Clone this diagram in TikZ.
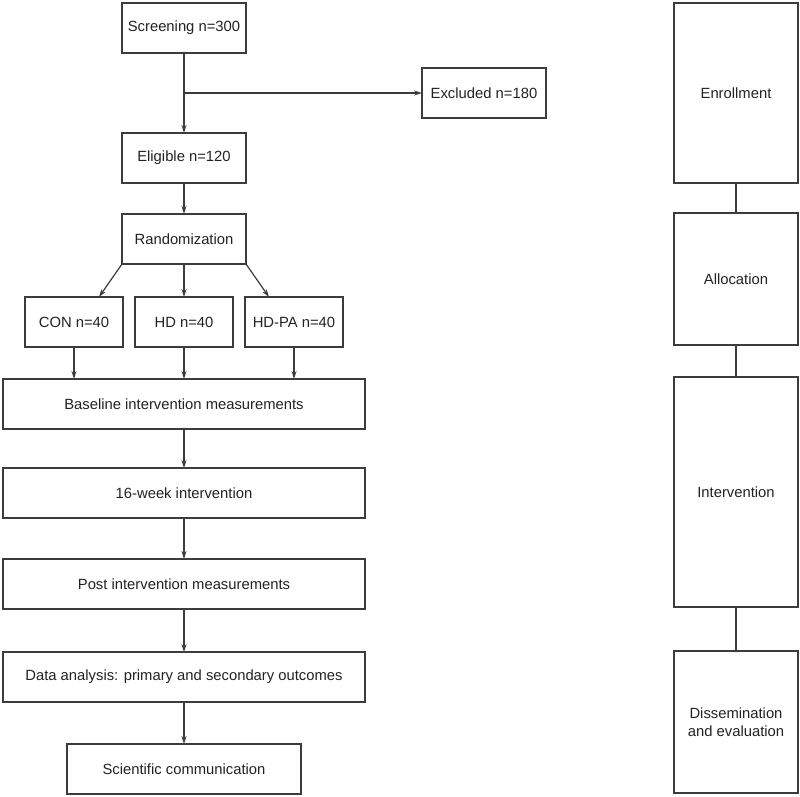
\documentclass[tikz,border=0pt]{standalone}
\usepackage{fontspec}
\setmainfont{Liberation Sans}
\usepackage{tikz}
\usetikzlibrary{arrows.meta,positioning}
\definecolor{linegray}{HTML}{3C3C3C}
\definecolor{textgray}{HTML}{222222}

\begin{document}
\begin{tikzpicture}[x=1pt, y=1pt, node distance=30pt and 12pt, color=linegray, line width=1.2pt,
    every node/.style={draw, text=textgray, font=\fontsize{14.8}{18}\selectfont, minimum height=50pt, inner sep=2pt, outer sep=0pt},
    >={Stealth[length=8pt,width=5pt]}]
      \useasboundingbox (-184,28) rectangle (616,-768);

      \node[minimum width=124pt] (1) [] {Screening n=300};
      \node[minimum width=124pt] (2) [below=80pt of 1] {Eligible n=120};
      \node[minimum width=124pt] (12) [below right=15pt and 176pt of 1] {Excluded n=180};
      \node[minimum width=124pt] (3) [below=31pt of 2] {Randomization};
      
      \node[minimum width=98pt] (5) [below=33pt of 3] {HD n=40};
      \node[minimum width=98pt] (4) [left=of 5] {CON n=40};
      \node[minimum width=98pt] (6) [right=of 5] {HD-PA n=40};
      
      \node[minimum width=362pt] (7) [below=32pt of 5] {Baseline intervention measurements};
      \node[minimum width=362pt] (8) [below=39pt of 7] {16-week intervention};
      \node[minimum width=362pt] (9) [below=41pt of 8] {Post intervention measurements};
      \node[minimum width=362pt] (10) [below=43pt of 9] {Data analysis: primary and secondary outcomes};
      \node[minimum width=234pt] (11) [below=42pt of 10] {Scientific communication};

      \node[minimum width=124pt, minimum height=180pt] (13) at (552,-65) {Enrollment};
      \node[minimum width=124pt, minimum height=132pt] (14) [below=30pt of 13] {Allocation};
      \node[minimum width=124pt, minimum height=230pt] (15) [below=32pt of 14] {Intervention};
      \node[minimum width=124pt, minimum height=142pt, align=center] (16) [below=44pt of 15] {Dissemination\\and evaluation};

      \coordinate (s) at (1.south |- 12.west);

      \draw[->] (1) -- (2);
      \draw[->] (s) -- (12);
      \draw[->] (2) edge [] (3);
      \draw[->] (3.south west) -- ([xshift=25pt]4.north);
      \draw[->] (3) edge [] (5);
      \draw[->] (3.south east) -- ([xshift=-25pt]6.north);
      \draw[->] (4) -- (4 |- 7.north);
      \draw[->] (5) edge [] (7);
      \draw[->] (6) -- (6 |- 7.north);
      \draw[->] (7) edge [] (8);
      \draw[->] (8) edge [] (9);
      \draw[->] (9) edge [] (10);
      \draw[->] (10) edge [] (11);

      \draw (13) edge [] (14);
      \draw (14) edge [] (15);
      \draw (15) edge [] (16);
    \end{tikzpicture}
\end{document}
